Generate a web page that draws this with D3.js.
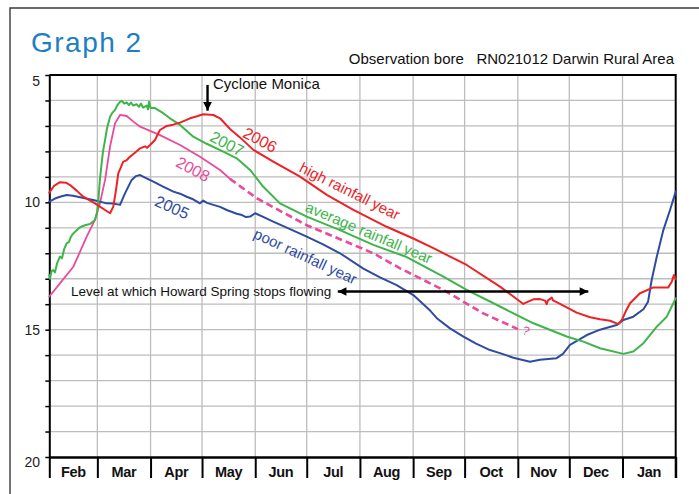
<!DOCTYPE html>
<html>
<head>
<meta charset="utf-8">
<script src="https://cdn.jsdelivr.net/npm/d3@7"></script>
<style>
  body { margin: 0; background: #fff; }
  svg { display: block; }
  text { font-family: "Liberation Sans", Arial, Helvetica, sans-serif; }
</style>
</head>
<body>
<svg id="chart" width="699" height="494"></svg>
<script>
// Groundwater level (metres below ground) at observation bore RN021012,
// plotted on a February–January season. x values are days after 1 February.
const monthLabels = ["Feb", "Mar", "Apr", "May", "Jun", "Jul", "Aug", "Sep", "Oct", "Nov", "Dec", "Jan"];
const depthTicks = [5, 10, 15, 20];

const level2005 = [
  [0, 9.97], [3.3, 9.85], [6.2, 9.78], [10.1, 9.71], [13.8, 9.74], [17.9, 9.80], [25.6, 9.91],
  [33.4, 10.04], [37.1, 10.05], [41.2, 10.10], [44.1, 9.65], [48.0, 9.12], [50.5, 8.97],
  [52.9, 8.93], [56.4, 9.05], [60.6, 9.19], [66.3, 9.38], [72.3, 9.58], [76.2, 9.66],
  [80.1, 9.78], [83.8, 9.88], [87.8, 10.04], [89.7, 9.93], [91.9, 10.02], [95.6, 10.10],
  [99.5, 10.18], [103.4, 10.30], [109.2, 10.45], [112.3, 10.50], [114.6, 10.58], [117.0, 10.56],
  [119.9, 10.43], [124.0, 10.55], [130.5, 10.76], [140.3, 11.05], [150.0, 11.35], [159.5, 11.65],
  [169.4, 12.00], [183.0, 12.60], [192.7, 12.95], [202.4, 13.25], [212.1, 13.64], [221.9, 14.25],
  [225.8, 14.55], [233.5, 14.95], [241.3, 15.27], [248.7, 15.55], [256.8, 15.80], [262.6, 15.92],
  [270.4, 16.10], [280.1, 16.26], [285.9, 16.18], [295.6, 16.12], [299.3, 15.95], [303.4, 15.60],
  [313.2, 15.21], [320.9, 15.00], [330.6, 14.82], [334.5, 14.62], [340.3, 14.49], [346.2, 14.20],
  [348.9, 13.90], [351.0, 13.05], [354.0, 12.13], [357.8, 11.09], [361.7, 10.30], [365, 9.58]
];

const level2006 = [
  [0, 9.62], [2.8, 9.35], [6.2, 9.21], [9.7, 9.23], [12.1, 9.32], [16.1, 9.55], [19.8, 9.78],
  [26.6, 10.04], [32.5, 10.30], [35.4, 10.43], [37.3, 10.17], [38.9, 9.50], [40.2, 8.86],
  [43.1, 8.40], [45.0, 8.35], [47.0, 8.21], [49.9, 8.05], [52.9, 7.88], [55.8, 7.80],
  [57.0, 7.86], [58.7, 7.75], [61.6, 7.55], [63.4, 7.30], [64.5, 7.16], [68.4, 7.00],
  [72.1, 6.95], [76.2, 6.87], [82.0, 6.70], [86.1, 6.62], [89.7, 6.54], [95.6, 6.57],
  [99.5, 6.70], [105.3, 7.12], [111.1, 7.45], [118.9, 7.94], [130.5, 8.40], [146.1, 8.99],
  [161.7, 9.71], [177.2, 10.30], [196.6, 10.96], [212.1, 11.42], [223.8, 11.80], [243.2, 12.46],
  [262.6, 13.31], [270.4, 13.70], [276.2, 13.99], [279.0, 13.90], [282.0, 13.81], [285.9, 13.80],
  [288.9, 13.86], [289.8, 14.00], [290.6, 13.85], [292.8, 13.74], [293.5, 13.85], [297.6, 13.99],
  [307.3, 14.33], [315.1, 14.51], [320.9, 14.59], [326.8, 14.65], [331.6, 14.78], [333.6, 14.62],
  [336.1, 14.25], [338.4, 13.96], [344.2, 13.57], [352.0, 13.34], [360.7, 13.34], [362.7, 13.12],
  [364.0, 12.85], [365, 13.02]
];

const level2007 = [
  [0, 12.85], [0.4, 13.00], [1.3, 12.70], [2.3, 12.66], [3.3, 12.75], [4.5, 12.40], [6.2, 12.13],
  [7.4, 12.20], [8.6, 11.85], [10.1, 11.61], [11.5, 11.55], [12.6, 11.35], [14.0, 11.22],
  [15.6, 11.12], [17.9, 10.98], [20.8, 10.90], [23.7, 10.85], [26.6, 10.69], [27.8, 10.40],
  [28.6, 9.91], [29.5, 9.10], [30.5, 8.47], [31.3, 8.00], [32.5, 7.55], [33.6, 7.10],
  [35.4, 6.64], [36.6, 6.50], [38.3, 6.37], [39.5, 6.20], [41.2, 6.05], [42.4, 6.02],
  [43.6, 6.12], [45.1, 6.08], [46.4, 6.18], [47.6, 6.08], [48.8, 6.20], [51.0, 6.15],
  [52.3, 6.25], [53.4, 6.12], [54.6, 6.28], [56.8, 6.20], [57.5, 6.35], [58.1, 6.05],
  [59.0, 6.30], [61.6, 6.30], [66.4, 6.50], [70.3, 6.70], [76.2, 6.96], [83.9, 7.42],
  [91.7, 7.70], [101.4, 8.01], [109.2, 8.27], [117.0, 8.73], [124.7, 9.39], [134.4, 10.04],
  [150.0, 10.56], [169.4, 11.09], [188.8, 11.67], [208.3, 12.15], [229.6, 12.92], [243.2, 13.44],
  [262.6, 14.09], [282.1, 14.75], [301.5, 15.27], [311.2, 15.47], [320.9, 15.73], [334.5, 15.95],
  [340.3, 15.86], [346.2, 15.53], [354.0, 14.88], [359.8, 14.49], [365, 13.77]
];

// 2008: measured part, then the expected recession (dashed)
const level2008 = [
  [0, 13.70], [6.2, 13.18], [14.0, 12.53], [21.8, 11.35], [26.6, 10.69], [29.5, 10.04],
  [32.5, 9.12], [35.4, 7.81], [38.3, 6.90], [41.2, 6.57], [45.1, 6.61], [49.0, 6.83],
  [52.9, 7.03], [64.5, 7.36], [76.2, 7.75], [87.8, 8.21], [99.5, 8.73], [105.3, 9.08]
];
const forecast2008 = [
  [105.3, 9.08], [120.9, 9.84], [150.0, 10.90], [163.6, 11.28], [188.8, 12.00],
  [204.4, 12.59], [229.6, 13.44], [252.9, 14.36], [273.1, 14.98]
];

const springStopLevel = 13.5;

// ---- layout ----
const svg = d3.select("#chart");
const seasonStart = new Date(Date.UTC(2001, 1, 1));
const seasonEnd = new Date(Date.UTC(2002, 1, 1));
const toDate = d => new Date(seasonStart.getTime() + d * 864e5);

const x = d3.scaleUtc().domain([seasonStart, seasonEnd]).range([49.3, 675.7]);
const y = d3.scaleLinear().domain([5, 20]).range([75, 457]);
const xd = d => x(toDate(d));
const plotTop = y(5), plotBottom = y(20);
const plotLeft = x.range()[0], plotRight = x.range()[1];

const colors = { y2005: "#2e4c9f", y2006: "#ec2227", y2007: "#3db54a", y2008: "#ea4a9b" };

// outer frame (left and top edges)
svg.append("path")
  .attr("d", "M10,494 V8 H699")
  .attr("fill", "none").attr("stroke", "#3a3a3a").attr("stroke-width", 1.4);

// title block
svg.append("text").attr("x", 31).attr("y", 52)
  .attr("font-size", 28).attr("letter-spacing", 1.5).attr("fill", "#1e7ec4")
  .text("Graph 2");
svg.append("text").attr("x", 674).attr("y", 64).attr("text-anchor", "end")
  .attr("font-size", 15).attr("fill", "#111").attr("xml:space", "preserve")
  .text("Observation bore   RN021012 Darwin Rural Area");

// grid
const monthBounds = d3.utcMonth.range(seasonStart, seasonEnd).concat([seasonEnd]);
const grid = svg.append("g").attr("stroke", "#bdbdbd").attr("stroke-width", 1.3);
grid.selectAll("line.h").data(d3.range(6, 20)).join("line")
  .attr("x1", plotLeft).attr("x2", plotRight)
  .attr("y1", d => y(d)).attr("y2", d => y(d));
grid.selectAll("line.v").data(monthBounds.slice(1, -1)).join("line")
  .attr("x1", d => x(d)).attr("x2", d => x(d))
  .attr("y1", plotTop).attr("y2", plotBottom);

// left axis with a tick at every metre
const yAxis = svg.append("g").attr("transform", `translate(${plotLeft},0)`)
  .call(d3.axisLeft(y).tickValues(d3.range(5, 21)).tickSize(4).tickSizeOuter(0).tickFormat(""));
yAxis.select(".domain").attr("stroke", "#000").attr("stroke-width", 2);
yAxis.selectAll(".tick line").attr("stroke", "#000").attr("stroke-width", 1.5);

svg.append("g").selectAll("text").data(depthTicks).join("text")
  .attr("x", 40).attr("text-anchor", "end").attr("font-size", 14).attr("fill", "#222")
  .attr("y", d => y(d) + (d === 5 ? 11 : d === 20 ? 10 : 5))
  .text(d => d);

// bottom axis: month separators and labels
const xAxis = svg.append("g").attr("transform", `translate(0,${plotBottom})`)
  .call(d3.axisBottom(x).tickValues(monthBounds).tickSize(21).tickSizeOuter(0).tickFormat(""));
xAxis.select(".domain").attr("stroke", "#000").attr("stroke-width", 2.6);
xAxis.selectAll(".tick line").attr("stroke", "#000").attr("stroke-width", 2);

svg.append("g").selectAll("text").data(monthLabels).join("text")
  .attr("x", (d, i) => (x(monthBounds[i]) + x(monthBounds[i + 1])) / 2)
  .attr("y", 476.5).attr("text-anchor", "middle")
  .attr("font-size", 14.5).attr("font-weight", "bold").attr("letter-spacing", -0.3).attr("fill", "#111")
  .text(d => d);

// top and right edges of the plot
svg.append("path")
  .attr("d", `M${plotLeft},${plotTop} H${plotRight} V${plotBottom + 21}`)
  .attr("fill", "none").attr("stroke", "#000").attr("stroke-width", 2);

// series
const line = d3.line().x(d => xd(d[0])).y(d => y(d[1])).curve(d3.curveLinear);
const plot = svg.append("g").attr("fill", "none").attr("stroke-linejoin", "round").attr("stroke-linecap", "round");
plot.append("path").datum(level2008).attr("d", line).attr("stroke", colors.y2008).attr("stroke-width", 1.8);
plot.append("path").datum(forecast2008).attr("d", line).attr("stroke", colors.y2008)
  .attr("stroke-width", 2.6).attr("stroke-dasharray", "7,4").attr("stroke-linecap", "butt");
plot.append("path").datum(level2005).attr("d", line).attr("stroke", colors.y2005).attr("stroke-width", 2);
plot.append("path").datum(level2007).attr("d", line).attr("stroke", colors.y2007).attr("stroke-width", 2);
plot.append("path").datum(level2006).attr("d", line).attr("stroke", colors.y2006).attr("stroke-width", 2);

// series annotations
const notes = [
  { text: "2006", day: 122.8, depth: 7.55, angle: 28, size: 16, color: colors.y2006 },
  { text: "high rainfall year", day: 175.2, depth: 9.55, angle: 26.5, size: 15, color: colors.y2006 },
  { text: "2007", day: 103.5, depth: 7.70, angle: 28, size: 16, color: colors.y2007 },
  { text: "average rainfall year", day: 186.3, depth: 11.18, angle: 23, size: 15, color: colors.y2007 },
  { text: "2008", day: 83.7, depth: 8.70, angle: 28, size: 16, color: colors.y2008 },
  { text: "2005", day: 71.5, depth: 10.20, angle: 24, size: 16, color: colors.y2005 },
  { text: "poor rainfall year", day: 149.3, depth: 12.11, angle: 25, size: 15, color: colors.y2005 },
  { text: "?", day: 277.8, depth: 15.05, angle: 20, size: 12, color: colors.y2008 }
];
svg.append("g").selectAll("text").data(notes).join("text")
  .attr("transform", d => `translate(${xd(d.day)},${y(d.depth)}) rotate(${d.angle})`)
  .attr("text-anchor", "middle").attr("dominant-baseline", "central")
  .attr("font-size", d => d.size).attr("fill", d => d.color)
  .text(d => d.text);

// arrow heads
const defs = svg.append("defs");
defs.append("marker").attr("id", "head").attr("viewBox", "0 0 10 10")
  .attr("refX", 10).attr("refY", 5).attr("markerWidth", 4.4).attr("markerHeight", 3.6)
  .attr("markerUnits", "strokeWidth").attr("orient", "auto-start-reverse")
  .append("path").attr("d", "M0,0 L10,5 L0,10 Z").attr("fill", "#000");

// Cyclone Monica marker
const cycloneDay = 92.2;
svg.append("line")
  .attr("x1", xd(cycloneDay)).attr("x2", xd(cycloneDay))
  .attr("y1", y(5.39)).attr("y2", y(6.40))
  .attr("stroke", "#000").attr("stroke-width", 2.4).attr("marker-end", "url(#head)");
svg.append("text").attr("x", xd(cycloneDay) + 5.5).attr("y", 89)
  .attr("font-size", 15).attr("fill", "#111").text("Cyclone Monica");

// spring cease-to-flow level
svg.append("line")
  .attr("x1", xd(168.1)).attr("x2", xd(314.1))
  .attr("y1", y(springStopLevel)).attr("y2", y(springStopLevel))
  .attr("stroke", "#000").attr("stroke-width", 2.4)
  .attr("marker-start", "url(#head)").attr("marker-end", "url(#head)");
svg.append("text").attr("x", 71).attr("y", y(springStopLevel) + 4.5)
  .attr("font-size", 13.5).attr("fill", "#111")
  .text("Level at which Howard Spring stops flowing");
</script>
</body>
</html>
